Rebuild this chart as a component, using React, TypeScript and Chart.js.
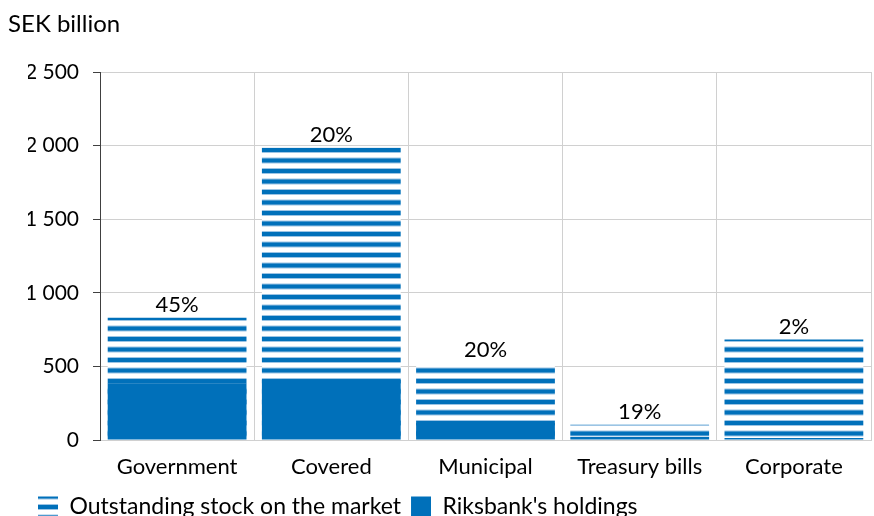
import React, { useEffect, useRef } from 'react';
import { Chart, registerables } from 'chart.js';

Chart.register(...registerables);

const categories = ['Government', 'Covered', 'Municipal', 'Treasury bills', 'Corporate'];
const outstanding = [830, 1985, 522, 104, 683];
const holdings = [385, 408, 115, 20, 14];
const shareLabels = ['45%', '20%', '20%', '19%', '2%'];
const yMin = 0;
const yMax = 2500;
const yStep = 500;

const BLUE = '#0070BA';
const FONT = 'Lato, "Open Sans", sans-serif';

function makeStripePattern(): CanvasPattern | string {
  const c = document.createElement('canvas');
  c.width = 8;
  c.height = 21;
  const g = c.getContext('2d');
  if (!g) return BLUE;
  g.fillStyle = '#ffffff';
  g.fillRect(0, 0, 8, 21);
  const drawStripe = (y: number) => {
    g.fillStyle = '#9cc4e4';
    g.fillRect(0, y, 8, 6);
    g.fillStyle = BLUE;
    g.fillRect(0, y + 1, 8, 4);
  };
  drawStripe(0);
  drawStripe(10.5);
  const p = g.createPattern(c, 'repeat');
  return p || BLUE;
}

const fmt = (v: number) => String(v).replace(/\B(?=(\d{3})+(?!\d))/g, ' ');

export default function App() {
  const ref = useRef<HTMLCanvasElement | null>(null);

  useEffect(() => {
    document.body.style.margin = '0';
    const canvas = ref.current;
    if (!canvas) return;
    const stripes = makeStripePattern();

    const unitPlugin = {
      id: 'unitLabel',
      afterDraw(chart: any) {
        const ctx = chart.ctx;
        ctx.save();
        ctx.font = `24px ${FONT}`;
        ctx.fillStyle = '#000';
        ctx.textBaseline = 'middle';
        ctx.textAlign = 'left';
        ctx.fillText('SEK billion', 8, 24);
        ctx.restore();
      },
    };

    const sharePlugin = {
      id: 'shareLabels',
      afterDatasetsDraw(chart: any) {
        const idx = chart.data.datasets.findIndex((d: any) => d.label === 'Outstanding stock on the market');
        const meta = chart.getDatasetMeta(idx);
        const ctx = chart.ctx;
        ctx.save();
        ctx.font = `22px ${FONT}`;
        ctx.fillStyle = '#000';
        ctx.textAlign = 'center';
        ctx.textBaseline = 'bottom';
        meta.data.forEach((el: any, i: number) => {
          ctx.fillText(shareLabels[i], el.x, el.y - 2);
        });
        ctx.restore();
      },
    };

    const chart = new Chart(canvas, {
      type: 'bar',
      data: {
        labels: categories,
        datasets: [
          {
            label: "Riksbank's holdings",
            data: holdings,
            backgroundColor: BLUE,
            borderWidth: 0,
            barPercentage: 0.9,
            categoryPercentage: 1,
          },
          {
            label: 'Outstanding stock on the market',
            data: outstanding,
            backgroundColor: stripes as any,
            borderWidth: 0,
            barPercentage: 0.9,
            categoryPercentage: 1,
          },
        ],
      },
      options: {
        animation: false,
        responsive: true,
        maintainAspectRatio: false,
        layout: { padding: { top: 72, left: 28, right: 3, bottom: -12 } },
        scales: {
          x: {
            stacked: true,
            grid: { color: '#d0d0d0', drawTicks: false, offset: true },
            border: { color: '#d0d0d0' },
            ticks: { color: '#000', font: { family: FONT, size: 22 }, padding: 14 },
            afterFit: (s: any) => { s.height = 45; },
          },
          y: {
            stacked: false,
            min: yMin,
            max: yMax,
            ticks: {
              stepSize: yStep,
              color: '#000',
              font: { family: FONT, size: 21 },
              padding: 14,
              callback: (v: any) => fmt(Number(v)),
            },
            grid: { color: '#d0d0d0', tickColor: '#404040', tickLength: 7 },
            border: { color: '#404040' },
            afterFit: (s: any) => { s.width = 72; },
          },
        },
        plugins: {
          legend: {
            position: 'bottom',
            align: 'start',
            reverse: true,
            labels: {
              color: '#000',
              font: { family: FONT, size: 23 },
              boxWidth: 20,
              boxHeight: 20,
              padding: 10,
            },
          },
          tooltip: { enabled: false },
          title: { display: false },
        },
      },
      plugins: [unitPlugin, sharePlugin],
    });
    return () => chart.destroy();
  }, []);

  return (
    <div style={{ position: 'relative', width: 874, height: 516 }}>
      <canvas ref={ref} />
    </div>
  );
}
